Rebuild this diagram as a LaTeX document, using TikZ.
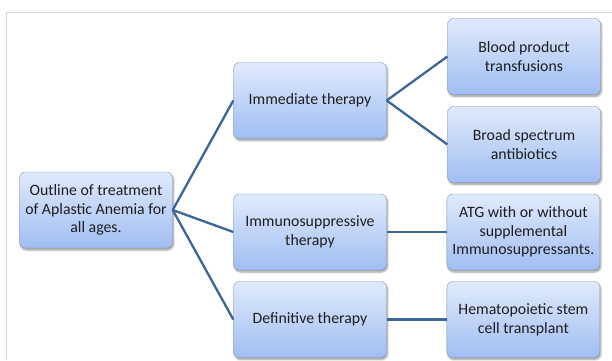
\documentclass[tikz,border=0pt]{standalone}
\usepackage{fontspec}
\setmainfont{Carlito}
\usetikzlibrary{positioning,shadows.blur}
\definecolor{boxtop}{RGB}{224,234,252}
\definecolor{boxbottom}{RGB}{160,190,242}
\definecolor{boxline}{RGB}{130,150,182}
\definecolor{linkblue}{RGB}{60,102,152}
\definecolor{framegray}{RGB}{214,214,214}
\definecolor{textgray}{RGB}{30,30,30}
\begin{document}
\begin{tikzpicture}[
	x=1pt, y=-1pt,
	align=center,
	node distance=60pt,
	box/.style={
		rectangle,
		rounded corners=6pt,
		draw=boxline,
		top color=boxtop,
		bottom color=boxbottom,
		minimum width=153pt,
		minimum height=76pt,
		inner sep=2pt,
		text=textgray,
		font=\fontsize{15.8}{18.7}\selectfont,
		blur shadow={shadow xshift=1pt, shadow yshift=-2pt, shadow blur steps=5}
	},
	link/.style={draw=linkblue, line width=2.3pt}
	]
	\useasboundingbox (0,0) rectangle (612,360);
	% frame
	\draw[framegray, line width=0.8pt] (6,360) |- (612,12);

	% root
	\node[box] at (96,210) (outline) {Outline of treatment\\of Aplastic Anemia for\\all ages.};

	% therapies
	\node[box] at (310,100.5) (immediate) {Immediate therapy};
	\node[box] at (310,232) (immuno) {Immunosuppressive\\therapy};
	\node[box] at (310,319.5) (definitive) {Definitive therapy};

	% treatments
	\node[box] at (524,56.5) (blood) {Blood product\\transfusions};
	\node[box] at (524,144.5) (antibio) {Broad spectrum\\antibiotics};
	\node[box, right=of immuno] (atg) {ATG with or without\\supplemental\\Immunosuppressants.};
	\node[box, right=of definitive] (hsct) {Hematopoietic stem\\cell transplant};

	% connectors
	\draw[link] (outline.east) -- (immediate.west);
	\draw[link] (outline.east) -- (immuno.west);
	\draw[link] (outline.east) -- (definitive.west);
	\draw[link] (immediate.east) -- (blood.west);
	\draw[link] (immediate.east) -- (antibio.west);
	\draw[link] (immuno.east) -- (atg.west);
	\draw[link] (definitive.east) -- (hsct.west);
\end{tikzpicture}
\end{document}
